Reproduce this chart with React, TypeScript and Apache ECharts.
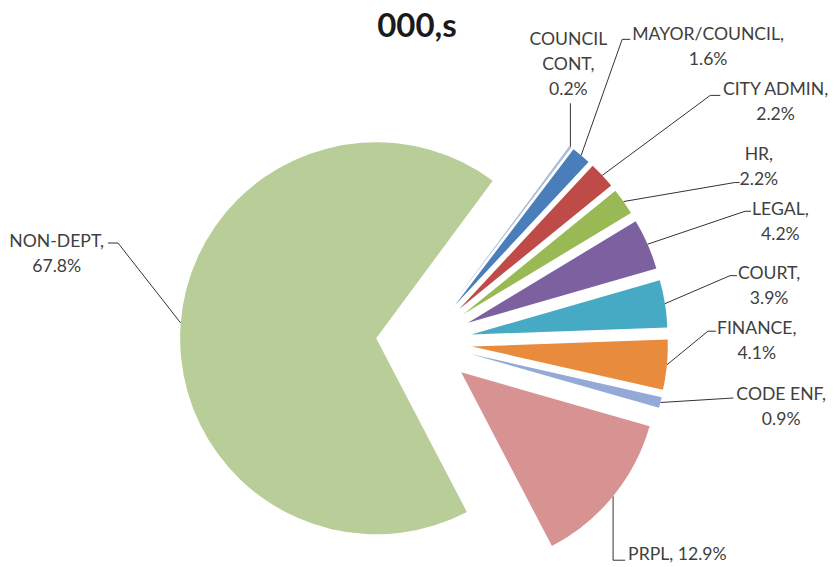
import React, { useEffect, useRef } from 'react';
import * as echarts from 'echarts';

const TITLE = '000,s';
const categories = ['COUNCIL CONT', 'MAYOR/COUNCIL', 'CITY ADMIN', 'HR', 'LEGAL', 'COURT', 'FINANCE', 'CODE ENF', 'PRPL', 'NON-DEPT'];
const shares = [0.2, 1.6, 2.2, 2.2, 4.2, 3.9, 4.1, 0.9, 12.9, 67.8];
const colors = ['#A8BCD9', '#4A7EBB', '#BE4B48', '#98B954', '#7D60A0', '#46AAC5', '#E98B3D', '#93A9D8', '#D69392', '#B8CD97'];

// label text wrapping style per category
const WRAP_WORDS = ['COUNCIL CONT'];
const ONE_LINE = ['PRPL'];

const CENTER = [424, 342];
const RADIUS = 196;
const EXPLODE = 48;
const START_ANGLE = 53.5;
const FONT = 'Lato, "Open Sans", sans-serif';
const TEXT_COLOR = '#404040';
const LINE_COLOR = '#333333';
const LINE_H = 25;
const LABEL_SIZE = 17.6;

type Leader = { elbow: [number, number]; tick: number; side: 'left' | 'right' | 'up'; line: number; lift: number; gap: number };
// leader-line geometry, relative to the point where each line leaves its slice
const LEADERS: Leader[] = [
  { elbow: [0, -43.5], tick: 0, side: 'up', line: 2, lift: 2, gap: 0 },
  { elbow: [41, -116], tick: 8, side: 'right', line: 0, lift: 6, gap: 2 },
  { elbow: [108, -80], tick: 10, side: 'right', line: 0, lift: 7, gap: 2 },
  { elbow: [111, -19], tick: 5, side: 'right', line: 1, lift: 4, gap: 0 },
  { elbow: [97.5, -33], tick: 6, side: 'right', line: 0, lift: 3, gap: 1 },
  { elbow: [65, -28], tick: 7, side: 'right', line: 0, lift: 3, gap: 1 },
  { elbow: [41, -33.6], tick: 8, side: 'right', line: 0, lift: 4, gap: 1 },
  { elbow: [73, -4.5], tick: 0, side: 'right', line: 0, lift: 5, gap: 3 },
  { elbow: [0, 64], tick: 12, side: 'right', line: 0, lift: 7, gap: 3 },
  { elbow: [-62.7, -80], tick: -10, side: 'left', line: 0, lift: 3, gap: 4 },
];

function labelText(name: string, value: number): string {
  if (ONE_LINE.includes(name)) return `${name}, ${value}%`;
  const head = WRAP_WORDS.includes(name) ? name.split(' ').join('\n') : name;
  return `${head},\n${value}%`;
}

export default function App() {
  const ref = useRef<HTMLDivElement>(null);
  useEffect(() => {
    if (!ref.current) return;
    const chart = echarts.init(ref.current, undefined, { renderer: 'svg' });
    const total = shares.reduce((a, b) => a + b, 0);

    const sliceData = categories.map((name, i) => ({
      name,
      value: shares[i],
      selected: true,
      itemStyle: { color: colors[i] },
    }));
    const labelData = categories.map((name, i) => ({ name, value: shares[i] }));

    const fallbackEdge = (i: number) => {
      let before = 0;
      for (let k = 0; k < i; k++) before += shares[k];
      const mid = ((before + shares[i] / 2) / total) * 360;
      const a = ((START_ANGLE - mid) * Math.PI) / 180;
      return [CENTER[0] + RADIUS * Math.cos(a), CENTER[1] - RADIUS * Math.sin(a)];
    };

    chart.setOption({
      animation: false,
      title: {
        text: TITLE,
        left: 'center',
        top: 2,
        textStyle: { fontFamily: FONT, fontSize: 33, fontWeight: 'bold', color: '#1a1a1a' },
      },
      series: [
        {
          type: 'pie',
          center: CENTER,
          radius: RADIUS,
          startAngle: START_ANGLE,
          clockwise: true,
          selectedMode: 'multiple',
          selectedOffset: EXPLODE,
          silent: true,
          emphasis: { disabled: true, scale: false },
          label: { show: false },
          labelLine: { show: false },
          itemStyle: { borderWidth: 0 },
          data: sliceData,
        },
        {
          type: 'pie',
          center: CENTER,
          radius: RADIUS,
          startAngle: START_ANGLE,
          clockwise: true,
          silent: true,
          avoidLabelOverlap: false,
          emphasis: { disabled: true, scale: false },
          itemStyle: { color: 'rgba(0,0,0,0)', borderWidth: 0 },
          label: {
            show: true,
            position: 'outside',
            color: TEXT_COLOR,
            fontFamily: FONT,
            fontSize: LABEL_SIZE,
            lineHeight: LINE_H,
            align: 'center',
            formatter: (p: any) => labelText(p.name, p.value),
          },
          labelLine: { show: true, smooth: false, lineStyle: { color: LINE_COLOR, width: 1 } },
          labelLayout: (p: any) => {
            const i = p.dataIndex;
            const L = LEADERS[i];
            const p0 = p.labelLinePoints && p.labelLinePoints[0] ? p.labelLinePoints[0] : fallbackEdge(i);
            const vx = p0[0] - CENTER[0];
            const vy = p0[1] - CENTER[1];
            const len = Math.hypot(vx, vy) || 1;
            const sx = p0[0] + (EXPLODE * vx) / len;
            const sy = p0[1] + (EXPLODE * vy) / len;
            const ex = sx + L.elbow[0];
            const ey = sy + L.elbow[1];
            const tx = ex + L.tick;
            const ty = ey;
            const pts = [[sx, sy], [ex, ey], [tx, ty]];
            const w = p.labelRect.width;
            if (L.side === 'up') {
              return { x: ex - 2, y: ey - L.lift, align: 'center', verticalAlign: 'bottom', labelLinePoints: pts };
            }
            const top = ey - L.lift - L.line * LINE_H - LINE_H / 2;
            const x = L.side === 'right' ? tx + L.gap + w / 2 : tx - L.gap - w / 2;
            return { x, y: top, align: 'center', verticalAlign: 'top', labelLinePoints: pts };
          },
          data: labelData,
        },
      ],
    });
    return () => chart.dispose();
  }, []);
  return <div ref={ref} style={{ position: 'absolute', left: 0, top: 0, width: 834, height: 567 }} />;
}
